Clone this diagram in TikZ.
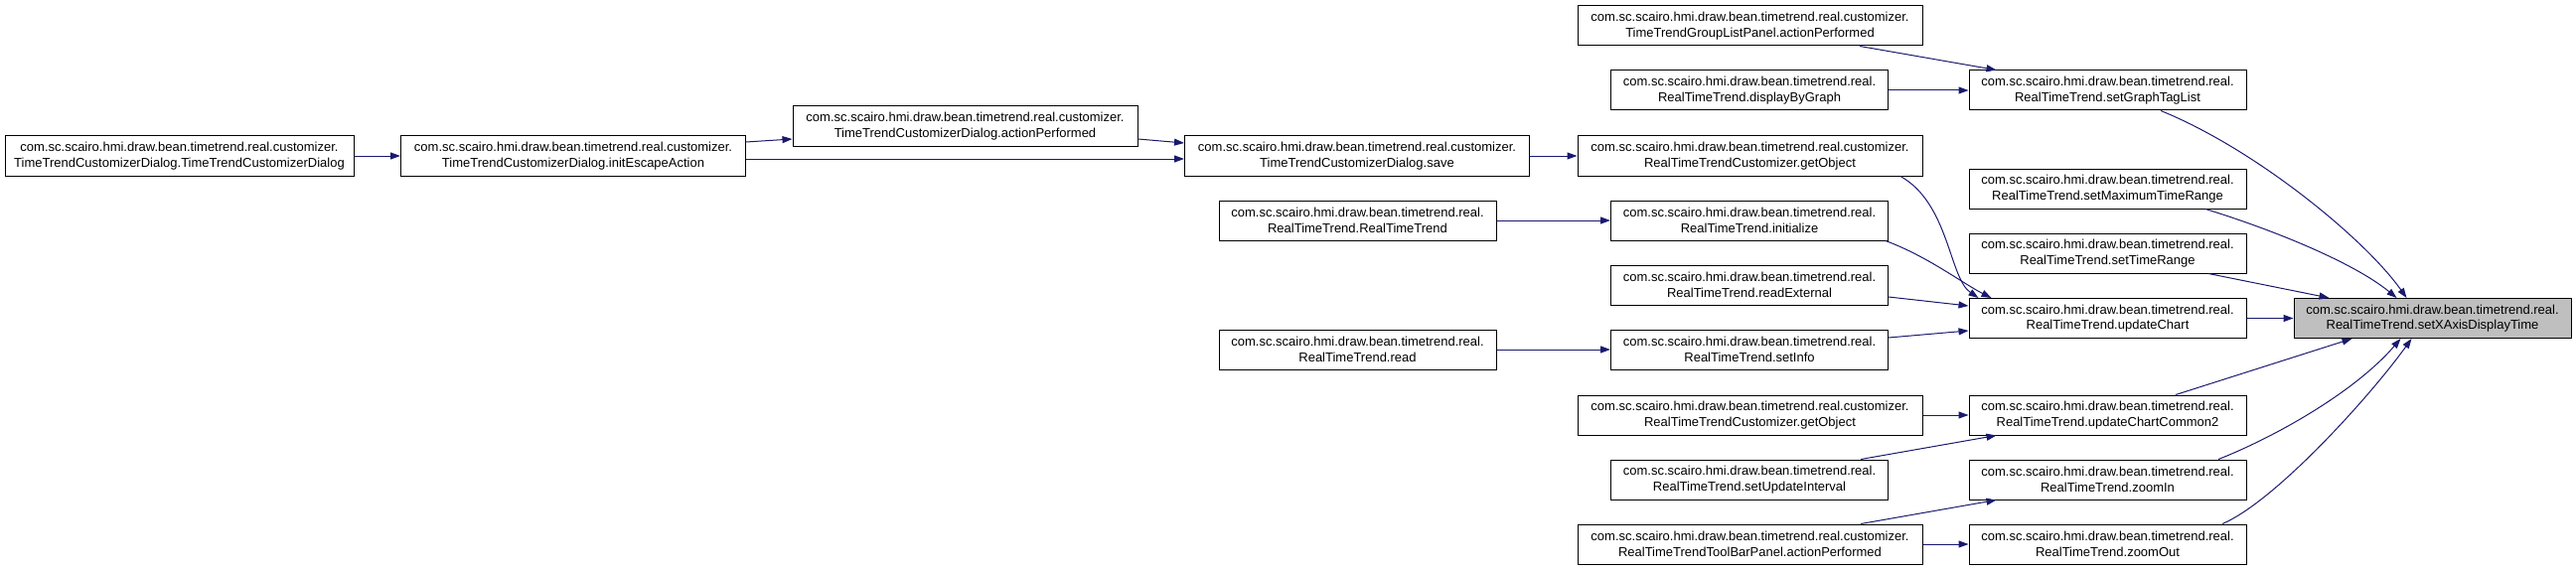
\documentclass[tikz,border=0pt]{standalone}
\usepackage{fontspec}
\setmainfont{Liberation Sans}
\usetikzlibrary{arrows.meta}
\definecolor{edgeblue}{HTML}{191970}
\definecolor{hl}{HTML}{BFBFBF}
\begin{document}
\begin{tikzpicture}[x=1pt,y=-1pt,
 fn/.style={draw=black, line width=1pt, fill=white, minimum height=40pt, inner sep=0pt, align=center, font=\fontsize{13}{15.5}\selectfont},
 wide/.style={fn, minimum width=347pt},
 narrow/.style={fn, minimum width=279pt},
 edge/.style={draw=edgeblue, line width=1pt, -{Triangle[length=10pt,width=7pt]}}]
\useasboundingbox (0,0) rectangle (2593,575);
\node[fn, minimum width=351pt] (a) at (180.5,157) {com.sc.scairo.hmi.draw.bean.timetrend.real.customizer.\\TimeTrendCustomizerDialog.TimeTrendCustomizerDialog};
\node[wide] (b) at (577,157) {com.sc.scairo.hmi.draw.bean.timetrend.real.customizer.\\TimeTrendCustomizerDialog.initEscapeAction};
\node[wide] (c) at (971.5,127) {com.sc.scairo.hmi.draw.bean.timetrend.real.customizer.\\TimeTrendCustomizerDialog.actionPerformed};
\node[wide] (d) at (1366,157) {com.sc.scairo.hmi.draw.bean.timetrend.real.customizer.\\TimeTrendCustomizerDialog.save};
\node[narrow] (e) at (1366.5,222) {com.sc.scairo.hmi.draw.bean.timetrend.real.\\RealTimeTrend.RealTimeTrend};
\node[narrow] (rd) at (1366.5,352) {com.sc.scairo.hmi.draw.bean.timetrend.real.\\RealTimeTrend.read};
\node[wide] (f) at (1761.5,26) {com.sc.scairo.hmi.draw.bean.timetrend.real.customizer.\\TimeTrendGroupListPanel.actionPerformed};
\node[narrow] (g) at (1761,91) {com.sc.scairo.hmi.draw.bean.timetrend.real.\\RealTimeTrend.displayByGraph};
\node[narrow] (h) at (2121.5,91) {com.sc.scairo.hmi.draw.bean.timetrend.real.\\RealTimeTrend.setGraphTagList};
\node[wide] (i) at (1761.5,157) {com.sc.scairo.hmi.draw.bean.timetrend.real.customizer.\\RealTimeTrendCustomizer.getObject};
\node[narrow] (j) at (1761,222) {com.sc.scairo.hmi.draw.bean.timetrend.real.\\RealTimeTrend.initialize};
\node[narrow] (k) at (2121.5,190) {com.sc.scairo.hmi.draw.bean.timetrend.real.\\RealTimeTrend.setMaximumTimeRange};
\node[narrow] (l) at (2121.5,255) {com.sc.scairo.hmi.draw.bean.timetrend.real.\\RealTimeTrend.setTimeRange};
\node[narrow] (m) at (1761,287) {com.sc.scairo.hmi.draw.bean.timetrend.real.\\RealTimeTrend.readExternal};
\node[narrow] (n) at (2121.5,320.5) {com.sc.scairo.hmi.draw.bean.timetrend.real.\\RealTimeTrend.updateChart};
\node[narrow] (o) at (1761,352) {com.sc.scairo.hmi.draw.bean.timetrend.real.\\RealTimeTrend.setInfo};
\node[wide] (p) at (1761.5,418) {com.sc.scairo.hmi.draw.bean.timetrend.real.customizer.\\RealTimeTrendCustomizer.getObject};
\node[narrow] (q) at (2121.5,418) {com.sc.scairo.hmi.draw.bean.timetrend.real.\\RealTimeTrend.updateChartCommon2};
\node[narrow] (r) at (1761,483) {com.sc.scairo.hmi.draw.bean.timetrend.real.\\RealTimeTrend.setUpdateInterval};
\node[narrow] (s) at (2121.5,483) {com.sc.scairo.hmi.draw.bean.timetrend.real.\\RealTimeTrend.zoomIn};
\node[wide] (t) at (1761.5,548) {com.sc.scairo.hmi.draw.bean.timetrend.real.customizer.\\RealTimeTrendToolBarPanel.actionPerformed};
\node[narrow] (u) at (2121.5,548) {com.sc.scairo.hmi.draw.bean.timetrend.real.\\RealTimeTrend.zoomOut};
\node[narrow, fill=hl] (v) at (2448.5,320.5) {com.sc.scairo.hmi.draw.bean.timetrend.real.\\RealTimeTrend.setXAxisDisplayTime};

\draw[edge] (a.east) -- (b.west);
\draw[edge] ([yshift=14pt]b.east) -- ([yshift=-13pt]c.west);
\draw[edge] ([yshift=-3pt]b.east) -- ([yshift=-3pt]d.west);
\draw[edge] ([yshift=-13pt]c.east) -- ([yshift=13pt]d.west);
\draw[edge] (d.east) -- (i.west);
\draw[edge] (e.east) -- (j.west);
\draw[edge] (rd.east) -- (o.west);
\draw[edge] ([xshift=110.5pt]f.south) -- ([xshift=28pt]h.north west);
\draw[edge] (g.east) -- (h.west);
\draw[edge] ([xshift=151.5pt]i.south) .. controls (1962,205) and (1962,280) .. ([xshift=10pt]n.north west);
\draw[edge] ([xshift=-3pt]j.south east) .. controls (1940,258) and (1975,285) .. ([xshift=23pt]n.north west);
\draw[edge] ([yshift=-12pt]m.east) -- ([yshift=12.5pt]n.west);
\draw[edge] ([yshift=12pt]o.east) -- ([yshift=-12.5pt]n.west);
\draw[edge] ([xshift=53.5pt]h.south) .. controls (2270,150) and (2380,240) .. ([xshift=114pt]v.north west);
\draw[edge] ([xshift=98.5pt]k.south) .. controls (2290,232) and (2370,265) .. ([xshift=104pt]v.north west);
\draw[edge] ([xshift=101.5pt]l.south) -- ([xshift=36pt]v.north west);
\draw[edge] (n.east) -- (v.west);
\draw[edge] ([xshift=68.5pt]q.north) -- ([xshift=59pt]v.south west);
\draw[edge] ([xshift=111.5pt]s.north) .. controls (2290,440) and (2370,395) .. ([xshift=108pt]v.south west);
\draw[edge] ([xshift=115.5pt]u.north) .. controls (2290,505) and (2385,400) .. ([xshift=119pt]v.south west);
\draw[edge] (p.east) -- (q.west);
\draw[edge] ([xshift=112pt]r.north) -- ([xshift=28pt]q.south west);
\draw[edge] ([xshift=111.5pt]t.north) -- ([xshift=28pt]s.south west);
\draw[edge] (t.east) -- (u.west);
\end{tikzpicture}
\end{document}
